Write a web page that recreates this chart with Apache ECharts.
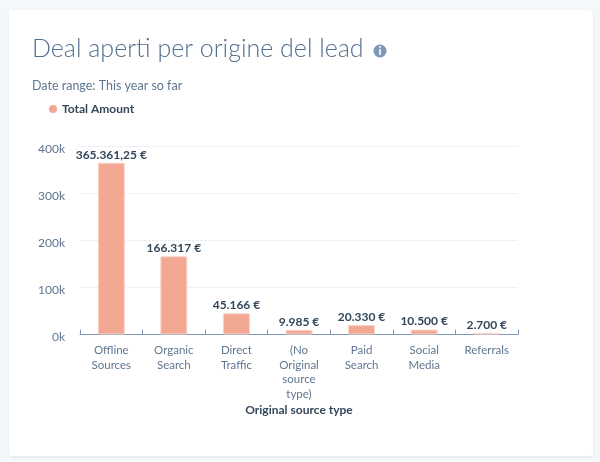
<!DOCTYPE html>
<html>
<head>
<meta charset="utf-8">
<title>Deal aperti per origine del lead</title>
<script src="https://cdn.jsdelivr.net/npm/echarts@6/dist/echarts.min.js"></script>
<style>
html, body { margin: 0; padding: 0; background: #f5f8fa; }
#card { position: absolute; left: 9px; top: 10px; width: 584px; height: 446px; background: #fff; border-radius: 3px; box-shadow: 0 1px 3px rgba(45, 62, 80, 0.1); }
#chartmain { position: absolute; left: 0; top: 0; width: 600px; height: 462px; }
</style>
</head>
<body>
<div id="card"></div>
<div id="chartmain"></div>
<script>
var categories = ['Offline\nSources', 'Organic\nSearch', 'Direct\nTraffic', '(No\nOriginal\nsource\ntype)', 'Paid\nSearch', 'Social\nMedia', 'Referrals'];
var amounts = [365361.25, 166317, 45166, 9985, 20330, 10500, 2700];
var amountLabels = ['365.361,25 €', '166.317 €', '45.166 €', '9.985 €', '20.330 €', '10.500 €', '2.700 €'];

var fontName = 'Lato';

var option = {
	animation : false,
	textStyle : {
		fontFamily : fontName
	},
	title : [ {
		text : 'Deal aperti per origine del lead',
		left : 27,
		top : 31,
		textStyle : {
			fontFamily : fontName,
			fontSize : 25,
			fontWeight : 300,
			color : '#516f90'
		}
	}, {
		text : 'Date range: This year so far',
		left : 27,
		top : 74,
		textStyle : {
			fontFamily : fontName,
			fontSize : 12.5,
			fontWeight : 400,
			color : '#5f7690'
		}
	} ],
	legend : {
		left : 44,
		top : 98,
		icon : 'circle',
		itemWidth : 8,
		itemHeight : 8,
		itemGap : 6,
		itemStyle : {
			borderWidth : 0
		},
		textStyle : {
			fontFamily : fontName,
			fontSize : 12,
			fontWeight : 700,
			color : '#33475b'
		}
	},
	grid : {
		left : 80,
		right : 82,
		top : 146.5,
		bottom : 127.5
	},
	xAxis : {
		type : 'category',
		data : categories,
		name : 'Original source type',
		nameLocation : 'middle',
		nameGap : 70,
		nameTextStyle : {
			fontFamily : fontName,
			fontSize : 12,
			fontWeight : 700,
			color : '#33475b'
		},
		axisLine : {
			lineStyle : {
				color : '#7c98b6'
			}
		},
		axisTick : {
			show : true,
			inside : true,
			length : 5,
			lineStyle : {
				color : '#7c98b6'
			}
		},
		axisLabel : {
			interval : 0,
			margin : 9,
			fontFamily : fontName,
			fontSize : 11.5,
			lineHeight : 14.5,
			color : '#5f7690'
		}
	},
	yAxis : {
		type : 'value',
		min : 0,
		max : 400000,
		interval : 100000,
		axisLine : {
			show : false
		},
		axisTick : {
			show : false
		},
		axisLabel : {
			margin : 15,
			verticalAlign : 'top',
			lineHeight : 5,
			fontFamily : fontName,
			fontSize : 12,
			color : '#5f7690',
			formatter : function(v) {
				return (v / 1000) + 'k';
			}
		},
		splitLine : {
			lineStyle : {
				color : '#e8edf3',
				type : [ 3, 1 ]
			}
		}
	},
	series : [ {
		name : 'Total Amount',
		type : 'bar',
		data : amounts,
		barWidth : 27,
		itemStyle : {
			color : '#f2a893',
			borderColor : '#f9d5c8',
			borderWidth : 1
		},
		label : {
			show : true,
			position : 'top',
			distance : 2,
			fontFamily : fontName,
			fontSize : 12,
			fontWeight : 700,
			color : '#33475b',
			formatter : function(p) {
				return amountLabels[p.dataIndex];
			}
		}
	} ],
	graphic : [ {
		type : 'circle',
		shape : {
			cx : 380,
			cy : 51,
			r : 6.5
		},
		style : {
			fill : '#7c98b6'
		}
	}, {
		type : 'text',
		x : 380,
		y : 51,
		style : {
			text : 'i',
			fill : '#fff',
			fontFamily : fontName,
			fontSize : 11,
			fontWeight : 900,
			align : 'center',
			verticalAlign : 'middle'
		}
	} ]
};

var myChart = echarts.init(document.getElementById('chartmain'));
myChart.setOption(option);
</script>
</body>
</html>
